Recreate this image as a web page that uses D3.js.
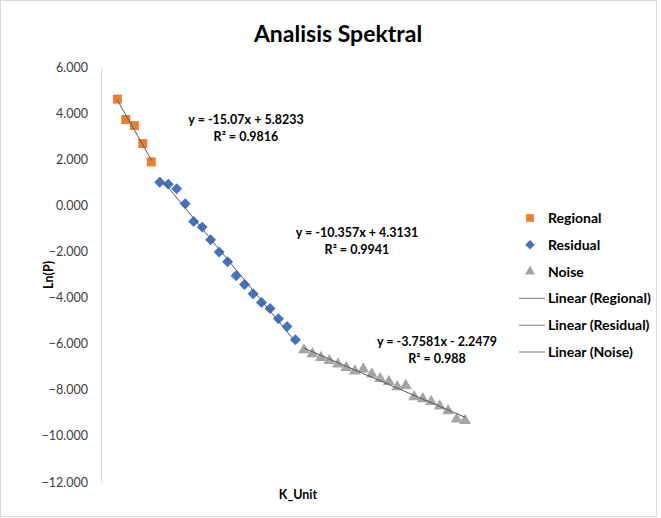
<!DOCTYPE html>
<html><head><meta charset="utf-8">
<script src="https://cdn.jsdelivr.net/npm/d3@7/dist/d3.min.js"></script>
<style>
html,body{margin:0;padding:0;background:#fff;}
svg{display:block;font-family:"Lato","Open Sans",sans-serif;}
</style></head><body>
<svg id="chart" width="661" height="518"></svg>
<script>
// ---- data ----
const title = "Analisis Spektral";
const xLabel = "K_Unit";
const yLabel = "Ln(P)";
const yTicks = [6, 4, 2, 0, -2, -4, -6, -8, -10, -12];

const regionalX = [0.084, 0.127, 0.171, 0.214, 0.258];
const regionalY = [4.605, 3.721, 3.461, 2.680, 1.886];

const residualX = [0.301, 0.345, 0.388, 0.432, 0.475, 0.519, 0.562, 0.606, 0.649, 0.693, 0.736, 0.780, 0.823, 0.867, 0.910, 0.954, 0.997];
const residualY = [0.997, 0.919, 0.716, 0.065, -0.703, -0.945, -1.496, -2.029, -2.450, -3.057, -3.435, -3.838, -4.215, -4.475, -4.922, -5.256, -5.833];

const noiseX = [1.041, 1.084, 1.128, 1.171, 1.215, 1.258, 1.302, 1.345, 1.389, 1.432, 1.476, 1.519, 1.563, 1.606, 1.650, 1.693, 1.737, 1.780, 1.824, 1.867];
const noiseY = [-6.266, -6.440, -6.600, -6.730, -6.886, -7.034, -7.190, -7.103, -7.320, -7.511, -7.641, -7.871, -7.814, -8.304, -8.391, -8.508, -8.707, -8.911, -9.271, -9.332];

const seriesNames = ["Regional", "Residual", "Noise"];
const equations = ["y = -15.07x + 5.8233", "y = -10.357x + 4.3131", "y = -3.7581x - 2.2479"];
const rSquared = ["R\u00B2 = 0.9816", "R\u00B2 = 0.9941", "R\u00B2 = 0.988"];

// ---- layout ----
const svg = d3.select("#chart");
const W = 661, H = 518;
const plot = {left: 101, top: 67, bottom: 482};

const x = d3.scaleLinear().domain([0, 2]).range([plot.left, plot.left + 390]);
const y = d3.scaleLinear().domain([-12, 6]).range([plot.bottom, plot.top]);

const colors = ["#ED7D31", "#4472C4", "#A5A5A5"];
// Excel-style diamond: square rotated 45deg
const excelDiamond = {
  draw(ctx, size) {
    const r = Math.sqrt(size / 2);
    ctx.moveTo(0, -r); ctx.lineTo(r, 0); ctx.lineTo(0, r); ctx.lineTo(-r, 0); ctx.closePath();
  }
};
const series = [
  {name: seriesNames[0], xs: regionalX, ys: regionalY, color: colors[0], shape: d3.symbolSquare, size: 80},
  {name: seriesNames[1], xs: residualX, ys: residualY, color: colors[1], shape: excelDiamond, size: 60},
  {name: seriesNames[2], xs: noiseX, ys: noiseY, color: colors[2], shape: d3.symbolTriangle, size: 60}
];

// border
svg.append("rect").attr("x", 0.5).attr("y", 0.5).attr("width", W - 5).attr("height", H - 2)
  .attr("fill", "#fff").attr("stroke", "#d9d9d9");

// title
svg.append("text").attr("x", 338).attr("y", 42).attr("text-anchor", "middle")
  .attr("font-size", 23).attr("font-weight", "bold").attr("fill", "#000").text(title);

// y axis
const yAxis = d3.axisLeft(y).tickValues(yTicks).tickFormat(d3.format(".3f")).tickSize(0).tickPadding(13);
const gy = svg.append("g").attr("transform", `translate(${plot.left},0)`).call(yAxis);
gy.select(".domain").attr("stroke", "#d9d9d9").attr("stroke-width", 1);
gy.selectAll("text").attr("font-size", 12.5).attr("fill", "#404040").attr("font-family", "Lato, sans-serif");

// axis titles
svg.append("text").attr("transform", "translate(53,275) rotate(-90)").attr("text-anchor", "middle")
  .attr("font-size", 12.5).attr("font-weight", "bold").text(yLabel);
svg.append("text").attr("x", 298).attr("y", 499).attr("text-anchor", "middle")
  .attr("font-size", 12.5).attr("font-weight", "bold").text(xLabel);

// regression helper
function fit(xs, ys) {
  const n = xs.length, mx = d3.mean(xs), my = d3.mean(ys);
  let sxy = 0, sxx = 0;
  for (let i = 0; i < n; i++) { sxy += (xs[i] - mx) * (ys[i] - my); sxx += (xs[i] - mx) ** 2; }
  const m = sxy / sxx; return {m, b: my - m * mx};
}

// markers
series.forEach(s => {
  svg.append("g").selectAll("path").data(s.xs.map((v, i) => [v, s.ys[i]])).enter().append("path")
    .attr("d", d3.symbol().type(s.shape).size(s.size))
    .attr("transform", d => `translate(${x(d[0])},${y(d[1])})`)
    .attr("fill", s.color);
});

// trendlines
const line = d3.line().x(d => x(d[0])).y(d => y(d[1]));
series.forEach(s => {
  const f = fit(s.xs, s.ys);
  const x0 = d3.min(s.xs), x1 = d3.max(s.xs);
  svg.append("path").datum([[x0, f.m * x0 + f.b], [x1, f.m * x1 + f.b]])
    .attr("d", line).attr("stroke", "#595959").attr("stroke-width", 1).attr("fill", "none");
});

// equation labels
const eqPos = [[246, 124], [357, 237], [437, 346]];
equations.forEach((e, i) => {
  const g = svg.append("g").attr("font-size", 12.5).attr("font-weight", "bold").attr("text-anchor", "middle");
  g.append("text").attr("x", eqPos[i][0]).attr("y", eqPos[i][1]).text(e);
  g.append("text").attr("x", eqPos[i][0]).attr("y", eqPos[i][1] + 17).text(rSquared[i]);
});

// legend
const legX = 530, legY0 = 218, legStep = 26.8;
series.forEach((s, i) => {
  const yy = legY0 + i * legStep;
  svg.append("path").attr("d", d3.symbol().type(s.shape).size(s.size * 0.75)).attr("transform", `translate(${legX},${yy})`).attr("fill", s.color);
  svg.append("text").attr("x", 548).attr("y", yy + 5).attr("font-size", 14).attr("font-weight", "bold").text(s.name);
});
series.forEach((s, i) => {
  const yy = legY0 + (i + 3) * legStep;
  svg.append("line").attr("x1", 519).attr("x2", 545).attr("y1", yy).attr("y2", yy).attr("stroke", "#808080").attr("stroke-width", 1);
  svg.append("text").attr("x", 548).attr("y", yy + 5).attr("font-size", 14).attr("font-weight", "bold").text("Linear (" + s.name + ")");
});
</script>
</body></html>
